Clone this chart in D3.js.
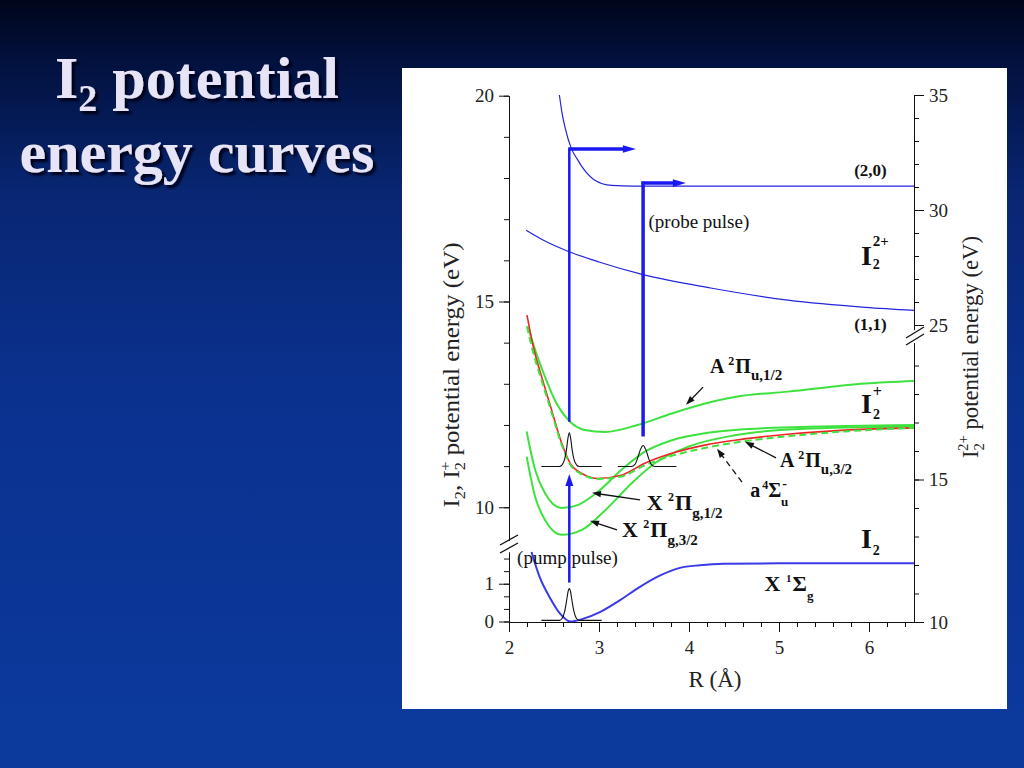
<!DOCTYPE html>
<html><head><meta charset="utf-8">
<script src="https://cdn.jsdelivr.net/npm/d3@7"></script>
<style>html,body{margin:0;padding:0;overflow:hidden;background:#0a2d85}</style>
</head><body>
<svg id="c" width="1024" height="768"></svg>
<script>
// ---------------- DATA ----------------
// I2 ground state X1Σg (left lower axis, eV)
const R_I2X = [2.25, 2.34, 2.45, 2.57, 2.68, 2.82, 3.01, 3.23, 3.45, 3.68, 3.90, 4.12, 4.38, 5.0, 6.5];
const E_I2X = [1.84, 1.18, 0.65, 0.20, 0.00, 0.07, 0.25, 0.56, 0.91, 1.22, 1.42, 1.49, 1.53, 1.54, 1.54];
// I2+ states (left upper axis, eV)
const R_A12 = [2.21, 2.31, 2.40, 2.51, 2.66, 2.84, 3.07, 3.43, 3.81, 4.18, 4.51, 5.10, 5.96, 6.5];
const E_A12 = [14.38, 13.70, 13.17, 12.60, 12.12, 11.88, 11.83, 12.00, 12.28, 12.52, 12.68, 12.81, 13.01, 13.07];
const R_A32 = [2.20, 2.27, 2.363, 2.474, 2.585, 2.677, 2.82, 2.99, 3.25, 3.51, 3.81, 4.175, 4.51, 5.12, 5.78, 6.5];
const E_A32 = [14.67, 13.90, 13.17, 12.36, 11.56, 11.08, 10.81, 10.70, 10.78, 11.07, 11.31, 11.51, 11.63, 11.78, 11.88, 11.93];
const R_a4S = [2.20, 2.27, 2.363, 2.474, 2.585, 2.677, 2.82, 2.99, 3.25, 3.51, 3.81, 4.175, 4.51, 5.12, 5.78, 6.5];
const E_a4S = [14.40, 13.75, 13.08, 12.30, 11.52, 11.05, 10.79, 10.69, 10.75, 11.02, 11.25, 11.44, 11.57, 11.73, 11.85, 11.93];
const R_X12 = [2.196, 2.29, 2.40, 2.585, 2.77, 2.99, 3.25, 3.51, 3.81, 4.175, 4.51, 5.23, 6.5];
const E_X12 = [11.84, 10.91, 10.34, 9.98, 10.06, 10.38, 10.91, 11.35, 11.63, 11.80, 11.88, 11.95, 12.00];
const R_X32 = [2.196, 2.29, 2.40, 2.585, 2.81, 3.07, 3.36, 3.62, 3.99, 4.51, 5.23, 6.5];
const E_X32 = [11.23, 10.26, 9.69, 9.33, 9.45, 9.93, 10.58, 11.07, 11.47, 11.75, 11.90, 11.96];
// I2 2+ states (right upper axis, eV)
const R_20 = [2.56, 2.59, 2.624, 2.69, 2.76, 2.82, 2.945, 3.14, 3.38, 6.5];
const E_20 = [35.0, 34.2, 33.57, 32.70, 32.20, 31.83, 31.32, 31.07, 31.04, 31.04];
const R_11 = [2.19, 2.40, 2.64, 3.00, 3.49, 4.24, 5.10, 5.96, 6.5];
const E_11 = [29.12, 28.65, 28.23, 27.74, 27.19, 26.61, 26.08, 25.77, 25.64];
// wave packets
const R_WP1 = [2.36, 2.56, 2.59, 2.62, 2.64, 2.655, 2.67, 2.685, 2.70, 2.72, 2.75, 2.78, 3.03];
const E_WP1 = [10.99, 10.99, 11.03, 11.18, 11.42, 11.68, 11.81, 11.68, 11.42, 11.18, 11.03, 10.99, 10.99];
const R_WP2 = [3.21, 3.36, 3.40, 3.43, 3.46, 3.49, 3.52, 3.55, 3.58, 3.62, 3.86];
const E_WP2 = [10.99, 10.99, 11.04, 11.20, 11.40, 11.50, 11.40, 11.20, 11.04, 10.99, 10.99];
const R_WP3 = [2.36, 2.56, 2.59, 2.62, 2.64, 2.655, 2.67, 2.685, 2.70, 2.72, 2.75, 2.78, 3.03];
const E_WP3 = [0.03, 0.03, 0.08, 0.28, 0.55, 0.78, 0.87, 0.78, 0.55, 0.28, 0.08, 0.03, 0.03];
// pulses
const pumpR = 2.67, pumpFrom = 1.03, pumpTo = 10.81;
const probe1R = 2.67, probe1From = 12.08, probe1To = 32.65, probe1End = 3.41;
const probe2R = 3.49, probe2From = 11.72, probe2To = 31.17, probe2End = 3.965;
// ticks
const xMajor = [2, 3, 4, 5, 6];
const luMajor = [10, 15, 20];
const llMajor = [0, 1];
const llMinor = [0, 1/3, 2/3, 1, 4/3, 5/3];
const ruMajor = [25, 30, 35];
const rlMajor = [10, 15];

// ---------------- DRAWING ----------------
const svg = d3.select("#c");
const FONT = "'Liberation Serif','Times New Roman',serif";
const defs = svg.append("defs");
const bg = defs.append("linearGradient").attr("id", "bg").attr("x1", 0).attr("y1", 0).attr("x2", 0).attr("y2", 1);
[[0, "#00051a"], [0.08, "#02113e"], [0.25, "#082672"], [0.5, "#0b318e"], [1, "#0b3a9e"]]
  .forEach(([o, c]) => bg.append("stop").attr("offset", o).attr("stop-color", c));
const sh = defs.append("filter").attr("id", "sh").attr("x", "-10%").attr("y", "-10%").attr("width", "130%").attr("height", "140%");
sh.append("feDropShadow").attr("dx", 3).attr("dy", 3).attr("stdDeviation", 0.8).attr("flood-color", "#000614").attr("flood-opacity", 0.95);
svg.append("rect").attr("width", 1024).attr("height", 768).attr("fill", "url(#bg)");

// title
const t1 = svg.append("text").attr("x", 197).attr("y", 98).attr("text-anchor", "middle").attr("filter", "url(#sh)")
  .attr("font-family", FONT).attr("font-weight", "bold").attr("font-size", 60).attr("fill", "#e6e4f6");
t1.append("tspan").text("I");
t1.append("tspan").attr("font-size", 38).attr("dy", 13).text("2");
t1.append("tspan").attr("dy", -13).text(" potential");
svg.append("text").attr("x", 197).attr("y", 172).attr("text-anchor", "middle").attr("filter", "url(#sh)")
  .attr("font-family", FONT).attr("font-weight", "bold").attr("font-size", 60).attr("fill", "#e6e4f6")
  .text("energy curves");

// panel
svg.append("rect").attr("x", 402).attr("y", 68).attr("width", 605).attr("height", 641).attr("fill", "#fff");

const g = svg.append("g");
const x = d3.scaleLinear().domain([2, 6.5]).range([509, 914]);
const yLU = d3.scaleLinear().domain([9.2, 20]).range([540.2, 95.7]);
const yLL = d3.scaleLinear().domain([0, 1.84]).range([621.5, 552]);
const yRU = d3.scaleLinear().domain([24.8, 35]).range([329.6, 95]);
const yRL = d3.scaleLinear().domain([10, 19.8]).range([622, 342.7]);

function styleAxis(sel) {
  sel.attr("font-family", FONT).attr("font-size", 19);
  sel.selectAll("text").attr("fill", "#222");
  sel.selectAll("line,path").attr("stroke", "#111");
}
// x axis
g.append("g").attr("transform", "translate(0,622)")
  .call(d3.axisBottom(x).tickValues(d3.range(0, 23).map(i => 2 + i * 0.2)).tickSize(5).tickSizeOuter(0).tickFormat(""))
  .call(styleAxis);
g.append("g").attr("transform", "translate(0,622)")
  .call(d3.axisBottom(x).tickValues(xMajor).tickSize(10).tickSizeOuter(0).tickPadding(9).tickFormat(d3.format("d")))
  .call(styleAxis);
// left upper
g.append("g").attr("transform", "translate(509,0)")
  .call(d3.axisLeft(yLU).tickValues(d3.range(10, 21)).tickSize(5).tickSizeOuter(0).tickFormat(""))
  .call(styleAxis);
g.append("g").attr("transform", "translate(509,0)")
  .call(d3.axisLeft(yLU).tickValues(luMajor).tickSize(10).tickSizeOuter(0).tickPadding(5).tickFormat(d3.format("d")))
  .call(styleAxis);
// left lower
g.append("g").attr("transform", "translate(509,0)")
  .call(d3.axisLeft(yLL).tickValues(llMinor).tickSize(5).tickSizeOuter(0).tickFormat(""))
  .call(styleAxis);
g.append("g").attr("transform", "translate(509,0)")
  .call(d3.axisLeft(yLL).tickValues(llMajor).tickSize(10).tickSizeOuter(0).tickPadding(5).tickFormat(d3.format("d")))
  .call(styleAxis);
// right upper
g.append("g").attr("transform", "translate(914,0)")
  .call(d3.axisRight(yRU).tickValues(d3.range(25, 36)).tickSize(5).tickSizeOuter(0).tickFormat(""))
  .call(styleAxis);
g.append("g").attr("transform", "translate(914,0)")
  .call(d3.axisRight(yRU).tickValues(ruMajor).tickSize(10).tickSizeOuter(0).tickPadding(5).tickFormat(d3.format("d")))
  .call(styleAxis);
// right lower
g.append("g").attr("transform", "translate(914,0)")
  .call(d3.axisRight(yRL).tickValues(d3.range(10, 20)).tickSize(5).tickSizeOuter(0).tickFormat(""))
  .call(styleAxis);
g.append("g").attr("transform", "translate(914,0)")
  .call(d3.axisRight(yRL).tickValues(rlMajor).tickSize(10).tickSizeOuter(0).tickPadding(5).tickFormat(d3.format("d")))
  .call(styleAxis);

// axis breaks
function brk(x0, y0, x1, y1) {
  g.append("line").attr("x1", x0).attr("y1", y0).attr("x2", x1).attr("y2", y1).attr("stroke", "#111").attr("stroke-width", 1.3);
}
brk(500, 545, 518, 535); brk(500, 553, 518, 543);
brk(906, 338, 924, 327); brk(906, 345, 924, 334);

// curves
function curve(Rs, Es, ys, color, w, dash) {
  const pts = Rs.map((r, i) => [r, Es[i]]);
  const line = d3.line().x(d => x(d[0])).y(d => ys(d[1])).curve(d3.curveMonotoneX);
  const p = g.append("path").datum(pts).attr("d", line).attr("fill", "none")
    .attr("stroke", color).attr("stroke-width", w).attr("stroke-linejoin", "round");
  if (dash) p.attr("stroke-dasharray", dash);
  return p;
}
const BLUE = "#2424dc", GREEN = "#3ee23e", RED = "#ee2424";
curve(R_20, E_20, yRU, BLUE, 1.2);
curve(R_11, E_11, yRU, BLUE, 1.2);
curve(R_A12, E_A12, yLU, GREEN, 2);
curve(R_X12, E_X12, yLU, GREEN, 2);
curve(R_X32, E_X32, yLU, GREEN, 2);
curve(R_A32, E_A32, yLU, RED, 1.6);
curve(R_a4S, E_a4S, yLU, GREEN, 2, "7,4");
curve(R_I2X, E_I2X, yLL, "#3a3ae6", 2);
curve(R_WP1, E_WP1, yLU, "#111", 1.1);
curve(R_WP2, E_WP2, yLU, "#111", 1.1);
curve(R_WP3, E_WP3, yLL, "#111", 1.1);

// blue pulse arrows
const ABLUE = "#1a1af0";
function head(tx, ty, ang, len, hw, color) {
  const c = Math.cos(ang), s = Math.sin(ang);
  const bx = tx - c * len, by = ty - s * len;
  g.append("path").attr("d", `M${tx},${ty}L${bx - s * hw},${by + c * hw}L${bx + s * hw},${by - c * hw}Z`).attr("fill", color);
}
g.append("line").attr("x1", x(pumpR)).attr("x2", x(pumpR)).attr("y1", yLL(pumpFrom)).attr("y2", yLU(pumpTo) + 8)
  .attr("stroke", ABLUE).attr("stroke-width", 2.5);
head(x(pumpR), yLU(pumpTo), -Math.PI / 2, 12, 4, ABLUE);
g.append("path").attr("d", `M${x(probe1R)},${yLU(probe1From)}V${yRU(probe1To)}`).attr("stroke", ABLUE).attr("stroke-width", 2.5).attr("fill", "none");
g.append("path").attr("d", `M${x(probe1R) - 1.2},${yRU(probe1To)}H${x(probe1End) - 8}`).attr("stroke", ABLUE).attr("stroke-width", 3.5).attr("fill", "none");
head(x(probe1End), yRU(probe1To), 0, 13, 3.8, ABLUE);
g.append("path").attr("d", `M${x(probe2R)},${yLU(probe2From)}V${yRU(probe2To) - 1.5}`).attr("stroke", ABLUE).attr("stroke-width", 3.5).attr("fill", "none");
g.append("path").attr("d", `M${x(probe2R) - 1.7},${yRU(probe2To)}H${x(probe2End) - 8}`).attr("stroke", ABLUE).attr("stroke-width", 3.5).attr("fill", "none");
head(x(probe2End), yRU(probe2To), 0, 13, 3.8, ABLUE);

// black pointer arrows (data coords: tail R,E -> tip R,E)
function pointer(r0, e0, r1, e1, ys, dash) {
  const x0 = x(r0), y0 = ys(e0), x1 = x(r1), y1 = ys(e1);
  const ang = Math.atan2(y1 - y0, x1 - x0);
  const l = g.append("line").attr("x1", x0).attr("y1", y0).attr("x2", x1 - Math.cos(ang) * 6).attr("y2", y1 - Math.sin(ang) * 6)
    .attr("stroke", "#111").attr("stroke-width", 1.3);
  if (dash) l.attr("stroke-dasharray", dash);
  head(x1, y1, ang, 9, 3.2, "#111");
}
pointer(4.156, 12.92, 3.967, 12.49, yLU);
pointer(4.967, 11.20, 4.622, 11.59, yLU);
pointer(4.589, 10.61, 4.311, 11.42, yLU, "6,4");
pointer(3.456, 10.18, 2.922, 10.35, yLU);
pointer(3.20, 9.45, 2.90, 9.67, yLU);

// rich text labels: parts [text, size, baseline offset, dx]
function rich(px, py, parts, weight) {
  const t = g.append("text").attr("x", px).attr("y", py).attr("font-family", FONT)
    .attr("font-weight", weight || "bold").attr("fill", "#111");
  let prev = 0;
  parts.forEach(([txt, size, off, dx]) => {
    t.append("tspan").attr("font-size", size).attr("dy", (off || 0) - prev).attr("dx", dx || 0).text(txt);
    prev = off || 0;
  });
  return t;
}
rich(x(5.835), yRU(31.48), [["(2,0)", 17]]);
rich(x(5.835), yRU(24.78), [["(1,1)", 17]]);
rich(x(3.55), yRU(29.22), [["(probe pulse)", 19]], "normal");
rich(x(5.91), yRU(27.61), [["I", 28], ["2+", 15, -19, 1], ["2", 14, 4, -16]]);
rich(x(4.233), yLU(13.26), [["A ", 20], ["2", 12, -8], ["Π", 20, 0, 1], ["u,1/2", 15, 7]]);
rich(x(5.91), yLU(12.29), [["I", 28], ["+", 16, -16, 1], ["2", 14, 6, -9]]);
rich(x(5.01), yLU(10.98), [["A ", 20], ["2", 12, -8], ["Π", 20, 0, 1], ["u,3/2", 15, 7]]);
rich(x(4.68), yLU(10.25), [["a", 20], ["4", 12, -8, 2], ["Σ", 20, 0, 0], ["-", 14, -9, 1], ["u", 13, 9, -6]]);
rich(x(3.53), yLU(9.93), [["X ", 22], ["2", 12, -9], ["Π", 22, 0, 1], ["g,1/2", 15, 8]]);
rich(x(3.255), yLU(9.28), [["X ", 22], ["2", 12, -9], ["Π", 22, 0, 1], ["g,3/2", 15, 8]]);
rich(x(5.91), yLL(1.94), [["I", 28], ["2", 14, 7, 1]]);
rich(x(4.84), yLL(0.80), [["X ", 22], ["1", 11, -9], ["Σ", 22, 0, 1], ["g", 13, 9]]);
rich(x(2.09), yLL(1.51), [["(pump pulse)", 19]], "normal");

// axis titles
const lt = g.append("text").attr("transform", "translate(459,375) rotate(-90)").attr("text-anchor", "middle")
  .attr("font-family", FONT).attr("font-size", 23).attr("fill", "#222")
  .attr("textLength", 265).attr("lengthAdjust", "spacingAndGlyphs");
lt.append("tspan").text("I");
lt.append("tspan").attr("font-size", 15).attr("dy", 6).text("2");
lt.append("tspan").attr("dy", -6).text(", I");
lt.append("tspan").attr("font-size", 15).attr("dy", 6).text("2");
lt.append("tspan").attr("font-size", 15).attr("dy", -15).attr("dx", -8).text("+");
lt.append("tspan").attr("dy", 9).text(" potential energy (eV)");

const rt = g.append("text").attr("transform", "translate(978,347) rotate(-90)").attr("text-anchor", "middle")
  .attr("font-family", FONT).attr("font-size", 23).attr("fill", "#222")
  .attr("textLength", 222).attr("lengthAdjust", "spacingAndGlyphs");
rt.append("tspan").text("I");
rt.append("tspan").attr("font-size", 15).attr("dy", 6).text("2");
rt.append("tspan").attr("font-size", 15).attr("dy", -16).attr("dx", -8).text("2+");
rt.append("tspan").attr("dy", 10).text(" potential energy (eV)");

g.append("text").attr("x", 715).attr("y", 687).attr("text-anchor", "middle").attr("font-family", FONT)
  .attr("font-size", 23).attr("fill", "#222").text("R (Å)");
</script>
</body></html>
